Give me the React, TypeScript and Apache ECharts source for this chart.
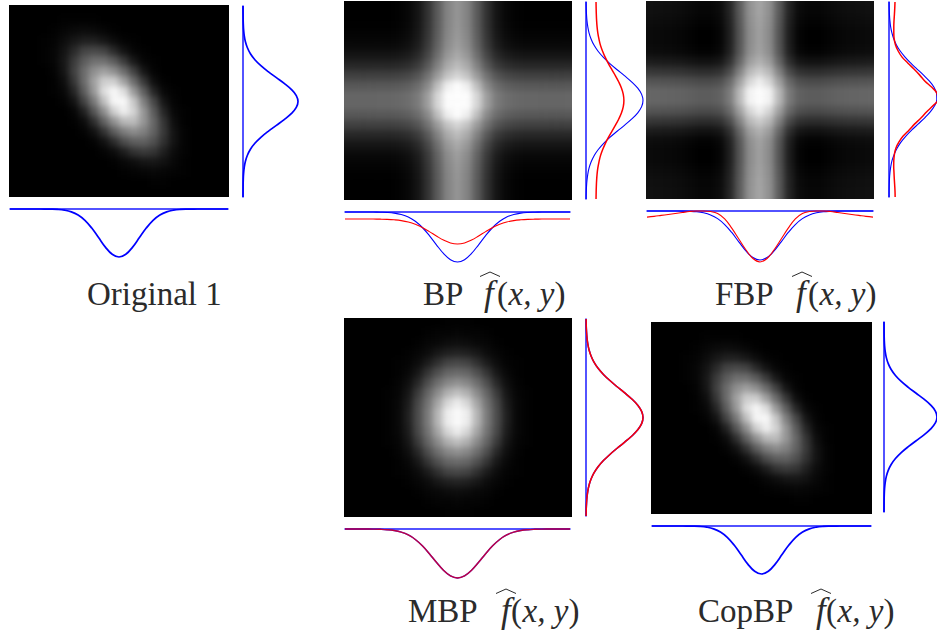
import React, { useEffect, useRef } from "react";
import * as echarts from "echarts";

// Grey levels (0-255).
const originalImage = [
  [0,0,0,0,0,0,0,0,0,0,0,0,0,0,0,0,0,0,0,0,0,0],
  [0,0,0,0,0,1,1,1,1,0,0,0,0,0,0,0,0,0,0,0,0,0],
  [0,0,0,0,1,3,5,6,5,3,1,0,0,0,0,0,0,0,0,0,0,0],
  [0,0,0,1,2,6,11,15,15,11,6,2,1,0,0,0,0,0,0,0,0,0],
  [0,0,0,1,3,9,20,33,38,33,20,9,3,1,0,0,0,0,0,0,0,0],
  [0,0,0,1,3,11,28,54,75,75,54,28,11,3,1,0,0,0,0,0,0,0],
  [0,0,0,0,2,10,31,70,114,134,114,70,31,10,2,0,0,0,0,0,0,0],
  [0,0,0,0,1,7,26,70,135,187,187,135,70,26,7,1,0,0,0,0,0,0],
  [0,0,0,0,1,4,18,56,126,206,242,206,126,56,18,4,1,0,0,0,0,0],
  [0,0,0,0,0,2,9,33,88,171,241,246,180,95,36,10,2,0,0,0,0,0],
  [0,0,0,0,0,0,3,16,50,114,190,227,195,122,54,18,4,1,0,0,0,0],
  [0,0,0,0,0,0,1,6,22,59,116,163,167,122,64,25,7,1,0,0,0,0],
  [0,0,0,0,0,0,0,2,8,24,55,92,111,96,60,27,9,2,0,0,0,0],
  [0,0,0,0,0,0,0,0,2,8,21,41,57,59,44,23,9,2,0,0,0,0],
  [0,0,0,0,0,0,0,0,0,2,6,14,24,28,25,15,6,2,0,0,0,0],
  [0,0,0,0,0,0,0,0,0,0,1,4,7,10,11,8,4,1,0,0,0,0],
  [0,0,0,0,0,0,0,0,0,0,0,1,2,3,4,3,2,1,0,0,0,0],
  [0,0,0,0,0,0,0,0,0,0,0,0,0,0,1,1,0,0,0,0,0,0],
  [0,0,0,0,0,0,0,0,0,0,0,0,0,0,0,0,0,0,0,0,0,0],
];

const copbpImage = originalImage;

const bpImage = [
  [0,0,0,0,0,2,7,20,49,91,132,150,132,91,49,20,7,2,0,0,0,0,0],
  [0,0,0,0,0,2,7,20,49,91,132,150,132,91,49,20,7,2,0,0,0,0,0],
  [1,1,1,1,1,3,8,21,50,92,133,151,133,92,50,21,8,3,1,1,1,1,1],
  [4,4,4,4,4,6,11,24,53,95,136,154,136,95,53,24,11,6,4,4,4,4,4],
  [9,9,9,9,9,11,16,29,58,100,141,159,141,100,58,29,16,11,9,9,9,9,9],
  [21,21,21,21,21,23,28,41,70,112,153,171,153,112,70,41,28,23,21,21,21,21,21],
  [39,39,39,39,39,41,46,59,88,130,171,189,171,130,88,59,46,41,39,39,39,39,39],
  [64,64,64,64,64,66,71,84,113,155,196,214,196,155,113,84,71,66,64,64,64,64,64],
  [88,88,88,88,88,90,95,108,137,190,240,255,240,190,137,108,95,90,88,88,88,88,88],
  [103,103,103,103,103,105,110,123,158,215,255,255,255,215,158,123,110,105,103,103,103,103,103],
  [103,103,103,103,103,105,110,123,158,215,255,255,255,215,158,123,110,105,103,103,103,103,103],
  [88,88,88,88,88,90,95,108,137,190,240,255,240,190,137,108,95,90,88,88,88,88,88],
  [64,64,64,64,64,66,71,84,113,155,196,214,196,155,113,84,71,66,64,64,64,64,64],
  [39,39,39,39,39,41,46,59,88,130,171,189,171,130,88,59,46,41,39,39,39,39,39],
  [21,21,21,21,21,23,28,41,70,112,153,171,153,112,70,41,28,23,21,21,21,21,21],
  [9,9,9,9,9,11,16,29,58,100,141,159,141,100,58,29,16,11,9,9,9,9,9],
  [4,4,4,4,4,6,11,24,53,95,136,154,136,95,53,24,11,6,4,4,4,4,4],
  [1,1,1,1,1,3,8,21,50,92,133,151,133,92,50,21,8,3,1,1,1,1,1],
  [0,0,0,0,0,2,7,20,49,91,132,150,132,91,49,20,7,2,0,0,0,0,0],
  [0,0,0,0,0,2,7,20,49,91,132,150,132,91,49,20,7,2,0,0,0,0,0],
];

const fbpImage = [
  [17,16,15,13,10,7,7,12,37,92,147,167,147,92,37,12,7,7,10,13,15,16,17],
  [16,15,14,12,9,6,6,11,36,91,146,166,146,91,36,11,6,6,9,12,14,15,16],
  [13,12,11,9,6,3,3,8,33,88,143,163,143,88,33,8,3,3,6,9,11,12,13],
  [10,9,8,6,3,0,0,5,30,85,140,160,140,85,30,5,0,0,3,6,8,9,10],
  [10,9,8,6,3,0,0,5,30,85,140,160,140,85,30,5,0,0,3,6,8,9,10],
  [13,12,11,9,6,3,3,8,33,88,143,163,143,88,33,8,3,3,6,9,11,12,13],
  [28,27,26,24,21,18,18,23,48,103,158,178,158,103,48,23,18,18,21,24,26,27,28],
  [55,54,53,51,48,45,45,50,75,130,185,205,185,130,75,50,45,45,48,51,53,54,55],
  [85,84,83,81,78,75,75,80,105,160,215,240,215,160,105,80,75,75,78,81,83,84,85],
  [103,102,101,99,96,93,93,98,123,185,245,255,245,185,123,98,93,93,96,99,101,102,103],
  [103,102,101,99,96,93,93,98,123,185,245,255,245,185,123,98,93,93,96,99,101,102,103],
  [85,84,83,81,78,75,75,80,105,160,215,240,215,160,105,80,75,75,78,81,83,84,85],
  [55,54,53,51,48,45,45,50,75,130,185,205,185,130,75,50,45,45,48,51,53,54,55],
  [28,27,26,24,21,18,18,23,48,103,158,178,158,103,48,23,18,18,21,24,26,27,28],
  [13,12,11,9,6,3,3,8,33,88,143,163,143,88,33,8,3,3,6,9,11,12,13],
  [10,9,8,6,3,0,0,5,30,85,140,160,140,85,30,5,0,0,3,6,8,9,10],
  [10,9,8,6,3,0,0,5,30,85,140,160,140,85,30,5,0,0,3,6,8,9,10],
  [13,12,11,9,6,3,3,8,33,88,143,163,143,88,33,8,3,3,6,9,11,12,13],
  [16,15,14,12,9,6,6,11,36,91,146,166,146,91,36,11,6,6,9,12,14,15,16],
  [17,16,15,13,10,7,7,12,37,92,147,167,147,92,37,12,7,7,10,13,15,16,17],
];

const mbpImage = [
  [0,0,0,0,0,0,0,0,0,0,1,1,1,0,0,0,0,0,0,0,0,0,0],
  [0,0,0,0,0,0,0,0,1,2,2,3,2,2,1,0,0,0,0,0,0,0,0],
  [0,0,0,0,0,0,0,1,3,4,6,7,6,4,3,1,0,0,0,0,0,0,0],
  [0,0,0,0,0,0,1,3,6,11,15,17,15,11,6,3,1,0,0,0,0,0,0],
  [0,0,0,0,0,1,2,6,13,23,33,37,33,23,13,6,2,1,0,0,0,0,0],
  [0,0,0,0,0,1,4,11,25,44,63,70,63,44,25,11,4,1,0,0,0,0,0],
  [0,0,0,0,0,2,7,19,42,74,104,117,104,74,42,19,7,2,0,0,0,0,0],
  [0,0,0,0,1,3,10,28,62,109,153,171,153,109,62,28,10,3,1,0,0,0,0],
  [0,0,0,0,1,4,13,36,80,140,197,221,197,140,80,36,13,4,1,0,0,0,0],
  [0,0,0,0,1,4,15,41,90,159,224,251,224,159,90,41,15,4,1,0,0,0,0],
  [0,0,0,0,1,4,15,41,90,159,224,251,224,159,90,41,15,4,1,0,0,0,0],
  [0,0,0,0,1,4,13,36,80,140,197,221,197,140,80,36,13,4,1,0,0,0,0],
  [0,0,0,0,1,3,10,28,62,109,153,171,153,109,62,28,10,3,1,0,0,0,0],
  [0,0,0,0,0,2,7,19,42,74,104,117,104,74,42,19,7,2,0,0,0,0,0],
  [0,0,0,0,0,1,4,11,25,44,63,70,63,44,25,11,4,1,0,0,0,0,0],
  [0,0,0,0,0,1,2,6,13,23,33,37,33,23,13,6,2,1,0,0,0,0,0],
  [0,0,0,0,0,0,1,3,6,11,15,17,15,11,6,3,1,0,0,0,0,0,0],
  [0,0,0,0,0,0,0,1,3,4,6,7,6,4,3,1,0,0,0,0,0,0,0],
  [0,0,0,0,0,0,0,0,1,2,2,3,2,2,1,0,0,0,0,0,0,0,0],
  [0,0,0,0,0,0,0,0,0,0,1,1,1,0,0,0,0,0,0,0,0,0,0],
];

// Marginal profiles, 33 samples each, as a fraction of the plot's depth.
const originalBottom = [0,0,0,0,0,.001,.003,.009,.025,.059,.125,.236,.397,.595,.794,.944,1,.944,.794,.595,.397,.236,.125,.059,.025,.009,.003,.001,0,0,0,0,0];
const originalRight = [0,.001,.002,.005,.011,.023,.044,.08,.135,.216,.325,.458,.607,.755,.882,.969,1,.969,.882,.755,.607,.458,.325,.216,.135,.08,.044,.023,.011,.005,.002,.001,0];
const bpBottomBlue = [0,0,0,0,.001,.004,.009,.022,.05,.1,.186,.31,.473,.656,.829,.954,1,.954,.829,.656,.473,.31,.186,.1,.05,.022,.009,.004,.001,0,0,0,0];
const bpBottomRed = [.14,.14,.14,.14,.141,.143,.147,.156,.172,.201,.247,.311,.392,.48,.561,.619,.64,.619,.561,.48,.392,.311,.247,.201,.172,.156,.147,.143,.141,.14,.14,.14,.14];
const bpRightBlue = [.002,.004,.009,.017,.031,.053,.089,.14,.212,.306,.419,.546,.679,.804,.908,.976,1,.976,.908,.804,.679,.546,.419,.306,.212,.14,.089,.053,.031,.017,.009,.004,.002];
const bpRightRed = [.176,.178,.181,.186,.194,.207,.227,.253,.291,.338,.393,.454,.517,.575,.623,.654,.665,.654,.623,.575,.517,.454,.393,.338,.291,.253,.227,.207,.194,.186,.181,.178,.176];
const fbpBottomBlue = [0,0,0,0,.001,.002,.006,.015,.037,.08,.156,.276,.438,.629,.814,.95,1,.95,.814,.629,.438,.276,.156,.08,.037,.015,.006,.002,.001,0,0,0,0];
const fbpBottomRed = [.125,.11,.09,.07,.05,.03,.01,0,0,.01,.05,.16,.35,.57,.79,.97,1.04,.97,.79,.57,.35,.16,.05,.01,0,0,.01,.03,.05,.07,.09,.11,.125];
const fbpRightBlue = [.002,.004,.009,.018,.033,.058,.096,.152,.23,.33,.45,.584,.72,.843,.938,.99,.996,.952,.864,.745,.611,.476,.352,.249,.168,.108,.064,.037,.02,.01,.005,.002,.001];
const fbpRightRed = [.125,.12,.113,.105,.1,.1,.107,.134,.188,.268,.39,.52,.64,.75,.893,1,1.018,.92,.786,.67,.536,.42,.295,.205,.143,.113,.1,.098,.104,.11,.118,.125,.128];
const mbpBottom = [0,0,0,.001,.002,.006,.014,.031,.064,.122,.213,.342,.504,.68,.842,.958,1,.958,.842,.68,.504,.342,.213,.122,.064,.031,.014,.006,.002,.001,0,0,0];
const mbpRight = bpRightBlue;
const copbpBottom = originalBottom;
const copbpRight = originalRight;

const BLUE = "#0000ff";
const RED = "#ff0000";
const INK = "#2b2b2b";
const SERIF = '"Liberation Serif", serif';
const GREY_LINEAR = ["#000000", "#ffffff"];
const GREY_LIFTED = ["#000000", "#424242", "#666666", "#808080", "#9a9a9a", "#b6b6b6", "#d2d2d2", "#efefef", "#ffffff"];

type Curve = { values: number[]; color: string; width: number; opacity?: number };
type Plot = { left: number; top: number; width: number; height: number; vertical: boolean; curves: Curve[] };

const plots: Plot[] = [
  { left: 10, top: 209, width: 218, height: 48, vertical: false, curves: [{ values: originalBottom, color: BLUE, width: 1.7 }] },
  { left: 243, top: 6, width: 55, height: 191, vertical: true, curves: [{ values: originalRight, color: BLUE, width: 1.7 }] },
  { left: 345, top: 212, width: 225, height: 50, vertical: false, curves: [{ values: bpBottomBlue, color: BLUE, width: 1.1 }, { values: bpBottomRed, color: RED, width: 1.1 }] },
  { left: 586, top: 2, width: 57, height: 197, vertical: true, curves: [{ values: bpRightBlue, color: BLUE, width: 1.1 }, { values: bpRightRed, color: RED, width: 1.5 }] },
  { left: 647, top: 211, width: 226, height: 49, vertical: false, curves: [{ values: fbpBottomBlue, color: BLUE, width: 1.1 }, { values: fbpBottomRed, color: RED, width: 1.1 }] },
  { left: 889, top: 2, width: 59, height: 195, vertical: true, curves: [{ values: fbpRightBlue, color: BLUE, width: 1.1 }, { values: fbpRightRed, color: RED, width: 1.5 }] },
  { left: 345, top: 529, width: 225, height: 49, vertical: false, curves: [{ values: mbpBottom, color: BLUE, width: 1.4 }, { values: mbpBottom, color: RED, width: 1.4, opacity: 0.75 }] },
  { left: 586, top: 319, width: 57, height: 197, vertical: true, curves: [{ values: mbpRight, color: BLUE, width: 1.5 }, { values: mbpRight, color: RED, width: 1.5 }] },
  { left: 652, top: 526, width: 219, height: 48, vertical: false, curves: [{ values: copbpBottom, color: BLUE, width: 1.7 }] },
  { left: 884, top: 322, width: 57, height: 190, vertical: true, curves: [{ values: copbpRight, color: BLUE, width: 1.7 }] },
];

const images = [
  { name: "original", cells: originalImage, left: 9, top: 5, width: 220, height: 192, shiftY: 0, ramp: GREY_LIFTED },
  { name: "bp", cells: bpImage, left: 344, top: 1, width: 228, height: 199, shiftY: 0, ramp: GREY_LINEAR },
  { name: "fbp", cells: fbpImage, left: 646, top: 1, width: 228, height: 198, shiftY: -3, ramp: GREY_LINEAR },
  { name: "mbp", cells: mbpImage, left: 344, top: 318, width: 228, height: 199, shiftY: 0, ramp: GREY_LIFTED },
  { name: "copbp", cells: copbpImage, left: 651, top: 322, width: 221, height: 192, shiftY: 0, ramp: GREY_LIFTED },
];

const PAD_CELLS = 3;
function padded(cells: number[][]): number[][] {
  const widen = (row: number[]) => [
    ...Array(PAD_CELLS).fill(row[0]),
    ...row,
    ...Array(PAD_CELLS).fill(row[row.length - 1]),
  ];
  const rows = cells.map(widen);
  return [
    ...Array(PAD_CELLS).fill(rows[0]),
    ...rows,
    ...Array(PAD_CELLS).fill(rows[rows.length - 1]),
  ];
}

function HeatImage({ cells, left, top, width, height, shiftY, ramp }: any) {
  const ref = useRef<HTMLDivElement>(null);
  const nRows = cells.length;
  const nCols = cells[0].length;
  const cw = width / nCols;
  const ch = height / nRows;
  const padX = cw * PAD_CELLS;
  const padY = ch * PAD_CELLS;
  const outerW = width + 2 * padX;
  const outerH = height + 2 * padY;

  useEffect(() => {
    const chart = echarts.init(ref.current!, undefined, { renderer: "svg" });
    const grid = padded(cells);
    const data: number[][] = [];
    grid.forEach((row, y) => row.forEach((v, x) => data.push([x, y, v])));
    chart.setOption({
      animation: false,
      backgroundColor: "#000",
      grid: { left: 0, top: 0, right: 0, bottom: 0 },
      xAxis: { type: "category", show: false, data: grid[0].map((_, i) => i) },
      yAxis: { type: "category", show: false, inverse: true, data: grid.map((_, i) => i) },
      visualMap: { show: false, min: 0, max: 255, inRange: { color: ramp } },
      series: [{ type: "heatmap", data, silent: true, itemStyle: { borderWidth: 0 } }],
    });
    return () => chart.dispose();
  }, []);

  return (
    <div style={{ position: "absolute", left, top, width, height, overflow: "hidden", background: "#000" }}>
      <div
        ref={ref}
        style={{ position: "absolute", left: -padX, top: -padY + shiftY, width: outerW, height: outerH, filter: "blur(3.2px)" }}
      />
    </div>
  );
}

const hiddenAxis = { show: false };

function buildOption() {
  const grid: any[] = [];
  const xAxis: any[] = [];
  const yAxis: any[] = [];
  const series: any[] = [];
  const baseline = { show: true, onZero: false, lineStyle: { color: "#1a1aff", width: 1.5 } };
  plots.forEach((p, idx) => {
    grid.push({ left: p.left, top: p.top, width: p.width, height: p.height });
    const sampleAxis = {
      type: "value", min: 0, max: 32, gridIndex: idx, axisTick: hiddenAxis, axisLabel: hiddenAxis,
      splitLine: hiddenAxis, axisLine: baseline,
    };
    const depthAxis = { type: "value", min: 0, max: 1, gridIndex: idx, show: false };
    if (p.vertical) {
      xAxis.push(depthAxis);
      yAxis.push({ ...sampleAxis, inverse: true, position: "left" });
    } else {
      xAxis.push({ ...sampleAxis, position: "top" });
      yAxis.push({ ...depthAxis, inverse: true });
    }
    p.curves.forEach((c) => {
      series.push({
        type: "line",
        xAxisIndex: idx,
        yAxisIndex: idx,
        showSymbol: false,
        smooth: 0.4,
        clip: false,
        silent: true,
        lineStyle: { color: c.color, width: c.width, opacity: c.opacity ?? 1 },
        data: c.values.map((v, i) => (p.vertical ? [v, i] : [i, v])),
      });
    });
  });

  // y is the baseline; ZRender places text by its top edge.
  const text = (s: string, x: number, y: number, size = 33, italic = false) => ({
    type: "text",
    silent: true,
    style: {
      text: s, x, y: y - size * 0.82, fill: INK, fontFamily: SERIF, fontSize: size,
      fontStyle: italic ? "italic" : "normal", verticalAlign: "top", align: "left",
    },
  });
  const formula = (prefix: string, x: number, y: number, fx: number, px: number, hx: number, hy: number) => [
    text(prefix, x, y),
    text("f", fx, y, 35, true),
    {
      type: "polyline", silent: true,
      shape: { points: [[hx, hy + 4.5], [hx + 10, hy], [hx + 20, hy + 4.5]] },
      style: { stroke: INK, lineWidth: 1, fill: "none" },
    },
    text("(", px, y),
    text("x, y", px + 11.5, y, 33, true),
    text(")", px + 57.5, y),
  ];

  return {
    animation: false,
    grid, xAxis, yAxis, series,
    graphic: [
      text("Original 1", 87, 305),
      ...formula("BP", 423, 305, 484, 497, 480, 272),
      ...formula("FBP", 715, 305, 796, 808, 792, 272),
      ...formula("MBP", 408, 622, 501, 511, 496, 589),
      ...formula("CopBP", 698, 622, 816, 826, 811, 589),
    ],
  };
}

export default function App() {
  const ref = useRef<HTMLDivElement>(null);
  useEffect(() => {
    const chart = echarts.init(ref.current!, undefined, { renderer: "svg" });
    chart.setOption(buildOption());
    return () => chart.dispose();
  }, []);
  return (
    <div style={{ position: "absolute", left: 0, top: 0, width: 937, height: 636, overflow: "hidden", background: "#fff" }}>
      {images.map((im) => (
        <HeatImage key={im.name} {...im} />
      ))}
      <div ref={ref} style={{ position: "absolute", left: 0, top: 0, width: 937, height: 636 }} />
    </div>
  );
}
